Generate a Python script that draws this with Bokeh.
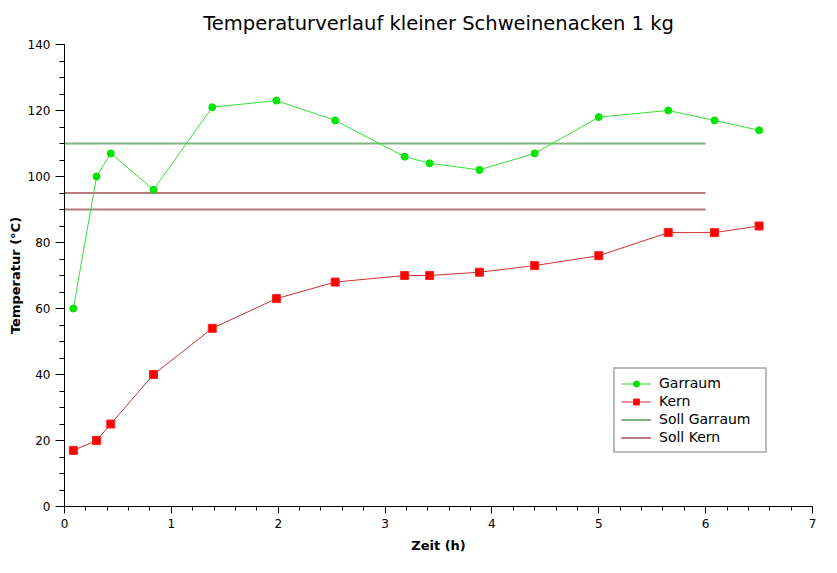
from bokeh.plotting import figure
from bokeh.models import Range1d, Legend, LegendItem, SingleIntervalTicker
from bokeh.embed import file_html
from bokeh.resources import INLINE

# Data
zeit = [0.083, 0.30, 0.433, 0.833, 1.383, 1.983, 2.533, 3.183, 3.417, 3.883, 4.40, 5.0, 5.65, 6.083, 6.50]
garraum = [60, 100, 107, 96, 121, 123, 117, 106, 104, 102, 107, 118, 120, 117, 114]
kern = [17, 20, 25, 40, 54, 63, 68, 70, 70, 71, 73, 76, 83, 83, 85]
soll_x = [0, 6]
soll_garraum = [110, 110]
soll_kern_1 = [95, 95]
soll_kern_2 = [90, 90]

FONT = "DejaVu Sans"

p = figure(width=825, height=565, output_backend="svg", toolbar_location=None,
           x_range=Range1d(0, 7), y_range=Range1d(0, 140),
           min_border_left=64, min_border_right=13, min_border_top=44, min_border_bottom=59)

p.title.text = "Temperaturverlauf kleiner Schweinenacken 1 kg"
p.title.align = "center"
p.title.text_font = FONT
p.title.text_font_size = "19.5px"
p.title.text_font_style = "normal"
p.title.text_color = "black"
p.title.standoff = 19

p.outline_line_color = None
p.grid.visible = False

p.xaxis.axis_label = "Zeit (h)"
p.yaxis.axis_label = "Temperatur (°C)"
for ax in (p.xaxis[0], p.yaxis[0]):
    ax.axis_label_text_font = FONT
    ax.axis_label_text_font_size = "13px"
    ax.axis_label_text_font_style = "bold"
    ax.axis_label_text_color = "black"
    ax.major_label_text_font = FONT
    ax.major_label_text_font_size = "12px"
    ax.major_label_text_color = "black"
    ax.axis_line_color = "black"
    ax.major_tick_line_color = "black"
    ax.minor_tick_line_color = "black"
    ax.major_tick_in = 0
    ax.minor_tick_in = 0

p.xaxis.ticker = SingleIntervalTicker(interval=1, num_minor_ticks=5)
p.yaxis.ticker = SingleIntervalTicker(interval=20, num_minor_ticks=4)
p.xaxis.major_tick_out = 7
p.xaxis.minor_tick_out = 4
p.yaxis.major_tick_out = 9
p.yaxis.minor_tick_out = 5
p.xaxis.axis_label_standoff = 7
p.yaxis.axis_label_standoff = 2

sg = p.line(soll_x, soll_garraum, line_color="#7fb57f", line_width=2)
sk1 = p.line(soll_x, soll_kern_1, line_color="#b47c7c", line_width=2)
sk2 = p.line(soll_x, soll_kern_2, line_color="#b47c7c", line_width=2)

gl = p.line(zeit, garraum, line_color="#33e033", line_width=1)
gm = p.scatter(zeit, garraum, marker="circle", size=7, fill_color="#00e600", line_color="#00e600")

kl = p.line(zeit, kern, line_color="#d03030", line_width=1)
km = p.scatter(zeit, kern, marker="square", size=8, fill_color="#ff0000", line_color="#ff2020")

legend = Legend(items=[
    LegendItem(label="Garraum", renderers=[gl, gm]),
    LegendItem(label="Kern", renderers=[kl, km]),
    LegendItem(label="Soll Garraum", renderers=[sg]),
    LegendItem(label="Soll Kern", renderers=[sk1, sk2]),
], location=(549, 53))
legend.label_text_font = FONT
legend.label_text_font_size = "14px"
legend.label_text_color = "black"
legend.label_height = 15
legend.label_width = 100
legend.glyph_height = 15
legend.glyph_width = 30
legend.spacing = 2
legend.padding = 6
legend.margin = 0
legend.label_standoff = 8
legend.border_line_color = "#777777"
legend.border_line_width = 2
legend.background_fill_alpha = 1.0
p.add_layout(legend, "center")

open("out.html", "w").write(file_html(p, INLINE))
